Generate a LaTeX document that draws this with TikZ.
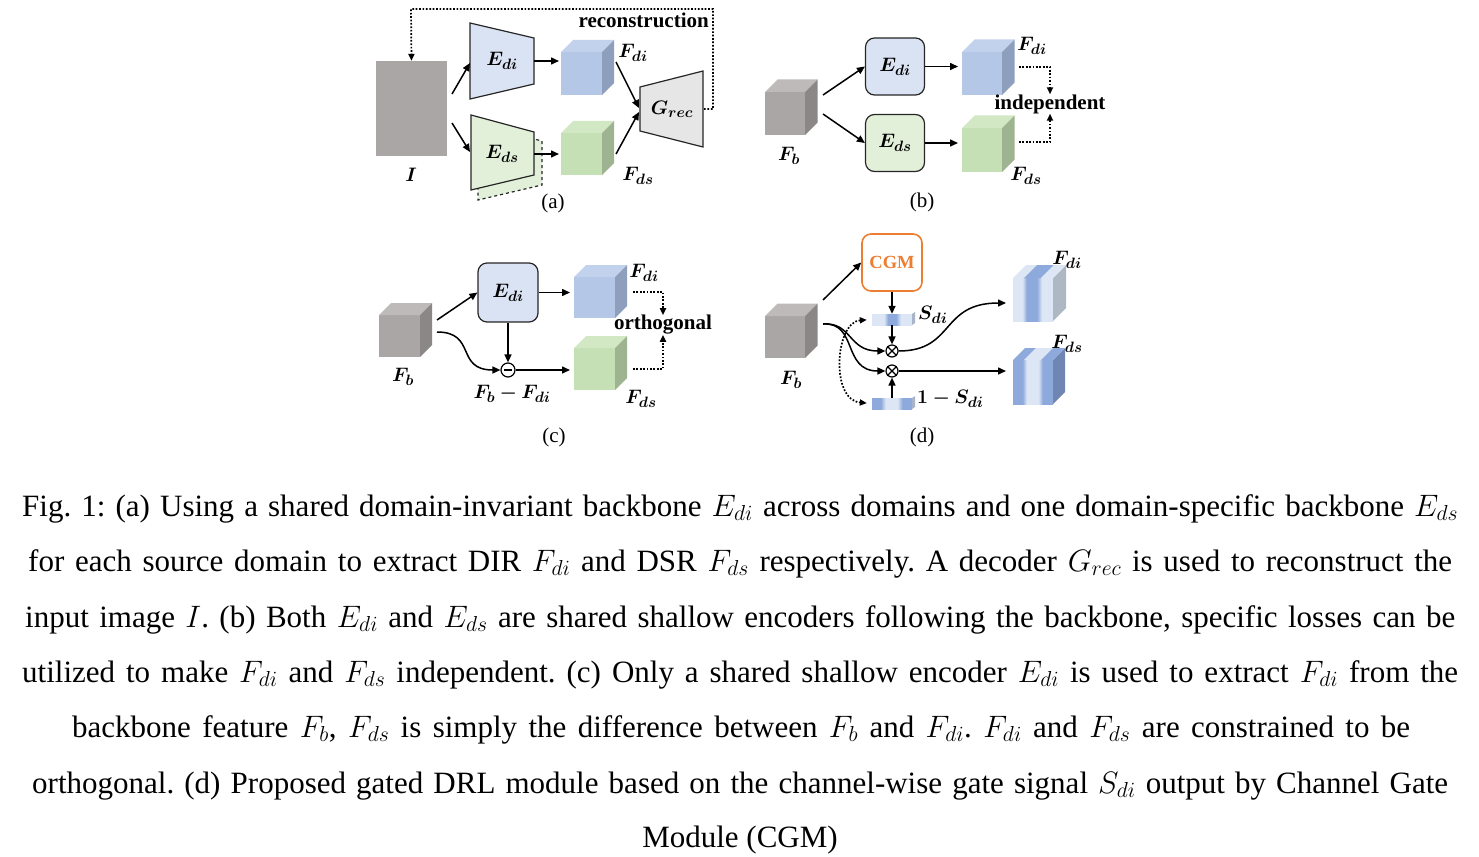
\RequirePackage{fix-cm}
\documentclass[tikz,border=0pt]{standalone}
\usepackage{amsmath}
\usepackage{bm}
\usepackage{fontspec}
\setmainfont{Liberation Serif}
\usetikzlibrary{arrows.meta,calc}
\DeclareMathSizes{19.5}{19.5}{15}{11}
\frenchspacing
\definecolor{grayI}{HTML}{ABA6A6}
\definecolor{grayfront}{HTML}{ABA6A6}
\definecolor{graytop}{HTML}{BFBABA}
\definecolor{grayside}{HTML}{8B8787}
\definecolor{bluefront}{HTML}{B4C7E7}
\definecolor{bluetop}{HTML}{C3D2EC}
\definecolor{blueside}{HTML}{8E9FBE}
\definecolor{greenfront}{HTML}{C5E0B4}
\definecolor{greentop}{HTML}{D2E8C4}
\definecolor{greenside}{HTML}{9EB38F}
\definecolor{edifill}{HTML}{DAE3F3}
\definecolor{edsfill}{HTML}{E2F0D9}
\definecolor{grecfill}{HTML}{E7E6E6}
\definecolor{outl}{HTML}{262626}
\definecolor{cgmorange}{HTML}{ED7D31}
\definecolor{stlight}{HTML}{DCE6F4}
\definecolor{stdark}{HTML}{8EA9DB}
\definecolor{sideA}{HTML}{ADB8C4}
\definecolor{sideB}{HTML}{6F86B2}
\definecolor{barside}{HTML}{A8B5C8}
\pgfdeclarehorizontalshading{distripe}{100bp}{color(0bp)=(stlight); color(37bp)=(stlight); color(42bp)=(stdark); color(55bp)=(stdark); color(61bp)=(stlight); color(100bp)=(stlight)}
\pgfdeclarehorizontalshading{dsstripe}{100bp}{color(0bp)=(stdark); color(37bp)=(stdark); color(42bp)=(stlight); color(57bp)=(stlight); color(62bp)=(stdark); color(100bp)=(stdark)}
\pgfdeclarehorizontalshading{sbarsh}{100bp}{color(0bp)=(stlight); color(40bp)=(stlight); color(45bp)=(stdark); color(55bp)=(stdark); color(61bp)=(stlight); color(100bp)=(stlight)}
\pgfdeclarehorizontalshading{invbarsh}{100bp}{color(0bp)=(stdark); color(36bp)=(stdark); color(42bp)=(stlight); color(57bp)=(stlight); color(63bp)=(stdark); color(100bp)=(stdark)}
\newcommand{\plaincube}[8]{%
  \fill[#6] (#1,#2) rectangle ({#1+#3},{#2+#4});
  \fill[#7] (#1,#2) -- ({#1+#5},{#2-#5}) -- ({#1+#3+#5},{#2-#5}) -- ({#1+#3},#2) -- cycle;
  \fill[#8] ({#1+#3},#2) -- ({#1+#3+#5},{#2-#5}) -- ({#1+#3+#5},{#2+#4-#5}) -- ({#1+#3},{#2+#4}) -- cycle;
}
\newcommand{\stripecube}[7]{%
  \shade[shading=#6] (#1,#2) rectangle ({#1+#3},{#2+#4});
  \fill[#7] ({#1+#3},#2) -- ({#1+#3+#5},{#2-#5}) -- ({#1+#3+#5},{#2+#4-#5}) -- ({#1+#3},{#2+#4}) -- cycle;
}
\newcommand{\tband}[6]{%
  \fill[#6] ({#1+#4},#2) -- ({#1+#5},#2) -- ({#1+#5+#3},{#2-#3}) -- ({#1+#4+#3},{#2-#3}) -- cycle;
}
\tikzset{
  trap/.style={draw=outl, line width=1.2pt, line join=miter},
  rbox/.style={draw=outl, line width=1.2pt, rounded corners=9pt, minimum width=59pt, minimum height=57pt, inner sep=0pt, font=\fontsize{19.5}{21}\selectfont},
  arr/.style={-{Triangle[length=8pt,width=7pt]}, line width=1.5pt},
  dotline/.style={line width=1.7pt, dash pattern=on 1.7pt off 1.7pt},
  dotarr/.style={dotline, -{Triangle[length=7pt,width=6pt]}},
  mlbl/.style={font=\fontsize{19.5}{21}\selectfont, inner sep=0pt},
  tlbl/.style={font=\fontsize{21}{24}\selectfont\bfseries, inner sep=0pt},
  plbl/.style={font=\fontsize{21}{24}\selectfont, inner sep=0pt},
  capline/.style={font=\fontsize{31}{36}\selectfont, inner sep=0pt, anchor=base west},
  otim/.style={circle, draw, fill=white, line width=1.2pt, minimum size=12pt, inner sep=0pt},
  barnode/.style={shade, minimum width=40pt, minimum height=11pt, inner sep=0pt},
}
\begin{document}
\begin{tikzpicture}[x=1pt,y=-1pt]
\useasboundingbox (0,0) rectangle (1479,856);
% ================= panel (a)
\node[fill=grayI, minimum width=71pt, minimum height=95pt, inner sep=0pt] (imgI) at (411.5,108.5) {};
\node[mlbl] (lI) at (411,175) {$\bm{I}$};
\draw[trap, fill=edifill] (470,23) -- (534,38) -- (534,84) -- (470,99) -- cycle;
\node[mlbl] (aEdi) at (502,61) {$\bm{E_{di}}$};
\draw[trap, dashed, fill=edsfill] (478,125) -- (542,141) -- (542,185) -- (478,200) -- cycle;
\draw[trap, fill=edsfill] (471,115) -- (534,132) -- (534,175) -- (471,190) -- cycle;
\node[mlbl] (aEds) at (502,154) {$\bm{E_{ds}}$};
\draw[trap, fill=grecfill] (640,87) -- (703,71) -- (703,147) -- (640,131) -- cycle;
\node[mlbl] (aGrec) at (672,109) {$\bm{G_{rec}}$};
\plaincube{561}{52}{41}{43}{12}{bluefront}{bluetop}{blueside}
\plaincube{561}{133}{41}{42}{12}{greenfront}{greentop}{greenside}
\coordinate (aI1) at (452,94);
\coordinate (aI2) at (452,123);
\draw[arr] (aI1) -- (470,63);
\draw[arr] (aI2) -- (470,152);
\draw[arr] (534,61) -- (559,61);
\draw[arr] (534,154) -- (559,154);
\draw[arr] (616,62) -- (639,108);
\draw[arr] (616,154) -- (639,112);
\draw[dotarr] (704,109) -- (713,109) -- (713,9) -- (411,9) -- (imgI.north);
\node[tlbl, anchor=east] (rec) at (709,20) {reconstruction};
\node[mlbl] (aFdi) at (633,53) {$\bm{F_{di}}$};
\node[mlbl] (aFds) at (638,176) {$\bm{F_{ds}}$};
\node[plbl] (pa) at (553,203) {(a)};
% ================= panel (b)
\plaincube{765}{92}{40}{43}{12.5}{grayfront}{graytop}{grayside}
\node[mlbl] (bFb) at (789,156) {$\bm{F_{b}}$};
\node[rbox, fill=edifill] (bEdi) at (895,66.5) {$\bm{E_{di}}$};
\node[rbox, fill=edsfill] (bEds) at (895,143) {$\bm{E_{ds}}$};
\draw[arr] (823,95) -- (bEdi.west);
\draw[arr] (823,114) -- (bEds.west);
\draw[arr] (bEdi.east) -- (958,66.5);
\draw[arr] (bEds.east) -- (958,143);
\plaincube{962}{52}{40}{43}{12.5}{bluefront}{bluetop}{blueside}
\plaincube{962}{128}{40}{44}{12.5}{greenfront}{greentop}{greenside}
\node[mlbl] (bFdi) at (1032,46) {$\bm{F_{di}}$};
\node[mlbl] (bFds) at (1026,176) {$\bm{F_{ds}}$};
\node[tlbl] (indep) at (1050,104) {independent};
\draw[dotarr] (1019,67) -- (1050,67) -- (indep.north);
\draw[dotarr] (1019,142) -- (1050,142) -- (indep.south);
\node[plbl] (pb) at (922,202) {(b)};
% ================= panel (c)
\plaincube{379}{315}{41}{42}{12}{grayfront}{graytop}{grayside}
\node[mlbl] (cFb) at (403,377) {$\bm{F_{b}}$};
\node[rbox, fill=edifill, minimum width=60pt, minimum height=59pt] (cEdi) at (508,292.5) {$\bm{E_{di}}$};
\node[circle, draw, fill=white, line width=1.2pt, minimum size=14pt, inner sep=0pt] (cm) at (508,370) {};
\draw[line width=2.4pt] ($(cm)+(-3.6,0)$) -- ($(cm)+(3.6,0)$);
\draw[arr] (437,320) -- (cEdi.west);
\draw[arr] (437,332) .. controls (477,332) and (455,370) .. (cm.west);
\draw[arr] (cEdi.south) -- (cm.north);
\draw[arr] (cm.east) -- (570,370);
\draw[arr] (cEdi.east) -- (570,292.5);
\plaincube{574}{277}{41}{41}{12}{bluefront}{bluetop}{blueside}
\plaincube{574}{348}{41}{42}{12}{greenfront}{greentop}{greenside}
\node[mlbl] (cFdi) at (644,273) {$\bm{F_{di}}$};
\node[mlbl] (cFds) at (641,399) {$\bm{F_{ds}}$};
\node[tlbl] (orth) at (663,325) {orthogonal};
\draw[dotarr] (633,292) -- (663,292) -- (orth.north);
\draw[dotarr] (633,369) -- (663,369) -- (orth.south);
\node[mlbl] (cdiff) at (512,394) {$\bm{F_{b}-F_{di}}$};
\node[plbl] (pc) at (554,437) {(c)};
% ================= panel (d)
\plaincube{765}{316}{40}{42}{12.5}{grayfront}{graytop}{grayside}
\node[mlbl] (dFb) at (791,380) {$\bm{F_{b}}$};
\node[rbox, draw=cgmorange, line width=1.6pt, fill=white, text=cgmorange, minimum width=60pt, font=\fontsize{18.5}{20}\selectfont\bfseries] (cgm) at (892,262.5) {CGM};
\draw[arr] (823,300) -- (cgm.west);
\node[barnode, shading=sbarsh] (sbar) at (892,319.5) {};
\fill[barside] (912,314) -- (915,312) -- (915,323) -- (912,325) -- cycle;
\node[barnode, shading=invbarsh] (s1bar) at (892,403.5) {};
\fill[barside] (912,398) -- (915,396) -- (915,407) -- (912,409) -- cycle;
\node[mlbl, anchor=west] (lS) at (918,315) {$\bm{S_{di}}$};
\node[mlbl, anchor=west] (l1S) at (917,399) {$\bm{1-S_{di}}$};
\node[otim] (m1) at (892,351) {};
\node[otim] (m2) at (892,371) {};
\foreach \m in {m1,m2} {\draw[line width=1.1pt] (\m.north west) -- (\m.south east) (\m.north east) -- (\m.south west);}
\draw[arr] (cgm.south) -- (sbar.north);
\draw[arr] (sbar.south) -- (m1.north);
\draw[arr] (s1bar.north) -- (m2.south);
\coordinate (fbout) at (823,324);
\draw[arr] (fbout) .. controls (852,322) and (848,351) .. (m1.west);
\draw[arr] (fbout) .. controls (858,322) and (842,371) .. (m2.west);
\draw[dotline, {Triangle[length=7pt,width=6pt]}-{Triangle[length=7pt,width=6pt]}, shorten <=5pt, shorten >=5pt] (sbar.west) .. controls (835,322) and (830,400) .. (s1bar.west);
\stripecube{1013}{278}{40}{43}{13}{distripe}{sideA}
\tband{1013}{278}{13}{0}{11}{stlight}
\tband{1013}{278}{13}{11}{28}{stdark}
\tband{1013}{278}{13}{28}{40}{stlight}
\stripecube{1013}{360}{40}{44}{12}{dsstripe}{sideB}
\tband{1013}{360}{12}{0}{11}{stdark}
\tband{1013}{360}{12}{11}{28}{stlight}
\tband{1013}{360}{12}{28}{40}{stdark}
\draw[arr] (m1.east) .. controls (955,351) and (940,303) .. (1006,303);
\draw[arr] (m2.east) -- (1006,371);
\node[mlbl] (dFdi) at (1067,260) {$\bm{F_{di}}$};
\node[mlbl] (dFds) at (1067,344) {$\bm{F_{ds}}$};
\node[plbl] (pd) at (922,437) {(d)};
% ================= caption
\node[capline] (c1) at (22,516) {\makebox[1436pt][s]{Fig. 1: (a) Using a shared domain-invariant backbone $E_{di}$ across domains and one domain-specific backbone $E_{ds}$}};
\node[capline] (c2) at (28,571) {\makebox[1424pt][s]{for each source domain to extract DIR $F_{di}$ and DSR $F_{ds}$ respectively. A decoder $G_{rec}$ is used to reconstruct the}};
\node[capline] (c3) at (25,627) {\makebox[1430pt][s]{input image $I$. (b) Both $E_{di}$ and $E_{ds}$ are shared shallow encoders following the backbone, specific losses can be}};
\node[capline] (c4) at (22,682) {\makebox[1436pt][s]{utilized to make $F_{di}$ and $F_{ds}$ independent. (c) Only a shared shallow encoder $E_{di}$ is used to extract $F_{di}$ from the}};
\node[capline] (c5) at (72,737) {\makebox[1338pt][s]{backbone feature $F_b$, $F_{ds}$ is simply the difference between $F_b$ and $F_{di}$. $F_{di}$ and $F_{ds}$ are constrained to be}};
\node[capline] (c6) at (32,793) {\makebox[1416pt][s]{orthogonal. (d) Proposed gated DRL module based on the channel-wise gate signal $S_{di}$ output by Channel Gate}};
\node[capline, anchor=base] (c7) at (740,847) {Module (CGM)};
\end{tikzpicture}
\end{document}
